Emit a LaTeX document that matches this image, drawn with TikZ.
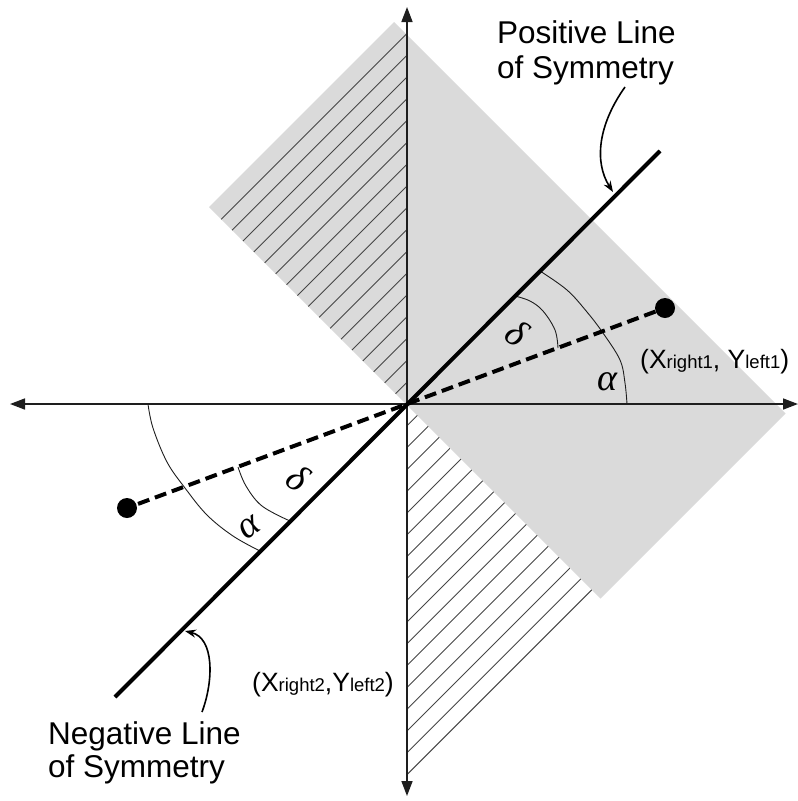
\documentclass[tikz,border=0pt]{standalone}
\usepackage{fontspec}
\setmainfont{Liberation Sans}
\newfontfamily\grk{Liberation Serif}
\usetikzlibrary{arrows.meta}
\definecolor{rectgray}{RGB}{218,218,218}
\definecolor{axisc}{RGB}{30,30,30}
\definecolor{hatchc}{RGB}{70,70,70}
\begin{document}
\begin{tikzpicture}[x=1pt,y=-1pt,
  axis/.style={draw=axisc, line width=1.6pt, {Triangle[length=15pt,width=11pt]}-{Triangle[length=15pt,width=11pt]}},
  hatchline/.style={draw=hatchc, line width=0.9pt},
  symline/.style={draw=black, line width=4pt},
  dashline/.style={draw=black, line width=4pt, dash pattern=on 12pt off 6pt},
  anglearc/.style={draw=axisc, line width=0.9pt},
  dot/.style={circle, fill=black, inner sep=0pt, minimum size=20pt},
  bigtext/.style={font=\fontsize{31.5}{34}\selectfont, inner sep=0pt, anchor=base west},
  coordtext/.style={inner sep=0pt, anchor=base west},
  greek/.style={inner sep=0pt, font=\grk\itshape\fontsize{38}{38}\selectfont},
  callout/.style={draw=black, line width=1.6pt, -{Stealth[length=11pt,width=8pt]}},
]
\useasboundingbox (0,0) rectangle (798,801);

% grey band
\fill[rectgray] (209,207) -- (394,22) -- (785.5,413.5) -- (600.5,598.5) -- cycle;

% upper hatching
\begin{scope}
  \clip (209,207) -- (394,22) -- (407,35) -- (407,405) -- cycle;
  \foreach \k in {1,...,17}{
    \pgfmathsetmacro{\hc}{811-21.8*\k}
    \draw[hatchline] (150,{\hc-150}) -- (450,{\hc-450});
  }
\end{scope}
% lower hatching
\begin{scope}
  \clip (407,405) -- (600.5,598.5) -- (407,792) -- cycle;
  \foreach \k in {1,...,17}{
    \pgfmathsetmacro{\hc}{811+21.8*\k}
    \draw[hatchline] (350,{\hc-350}) -- (700,{\hc-700});
  }
\end{scope}

% named points
\coordinate (O) at (407,404);
\coordinate (XL) at (10,404);
\coordinate (XR) at (798,404);
\coordinate (YT) at (407,7);
\coordinate (YB) at (407,796);
\coordinate (PE) at (660,151);
\coordinate (NE) at (115,697);

% angle arcs
\draw[anglearc] plot[smooth, tension=0.6] coordinates {(627,404) (625,383) (620,360) (603,333) (587,312) (567,290) (540,271)};
\draw[anglearc] plot[smooth, tension=0.6] coordinates {(558,348) (555,330) (543,311) (530,301) (515,296)};
\draw[anglearc] plot[smooth, tension=0.6] coordinates {(148,404) (153,428) (167,462) (185,488) (207,515) (233,536) (260,551)};
\draw[anglearc] plot[smooth, tension=0.6] coordinates {(238,467) (246,486) (262,506) (290,521)};

% axes
\draw[axis] (XL) -- (XR);
\draw[axis] (YB) -- (YT);

% points and lines
\node[dot] (D1) at (665,308) {};
\node[dot] (D2) at (127,508) {};
\draw[dashline] (D1) -- (O) -- (D2);
\draw[symline] (NE) -- (PE);

% greek labels
\node[greek, rotate=-35] (dq1) at (517,333) {δ};
\node[greek] (aq1) at (607,382) {α};
\node[greek, rotate=-35] (dq3) at (298,478) {δ};
\node[greek, rotate=35] (aq3) at (250,528) {α};

% coordinate labels
\node[coordtext] (c1) at (640,368) {\fontsize{26.5}{30}\selectfont (X{\fontsize{18.5}{20}\selectfont right1}, Y{\fontsize{18.5}{20}\selectfont left1})};
\node[coordtext] (c2) at (252,691) {\fontsize{26.5}{30}\selectfont (X{\fontsize{18.5}{20}\selectfont right2},Y{\fontsize{18.5}{20}\selectfont left2})};

% line labels
\node[bigtext] (posA) at (497,43) {Positive Line};
\node[bigtext] (posB) at (497,78) {of Symmetry};
\node[bigtext] (negA) at (48,744) {Negative Line};
\node[bigtext] (negB) at (48,777) {of Symmetry};

% callout arrows
\coordinate (ps) at (625,87);
\coordinate (pt) at (613,192);
\coordinate (ns) at (202,712);
\coordinate (nt) at (185,631);
\draw[callout] (ps) .. controls (598,125) and (594,162) .. (pt);
\draw[callout] (ns) .. controls (214,680) and (214,638) .. (nt);
\end{tikzpicture}
\end{document}
